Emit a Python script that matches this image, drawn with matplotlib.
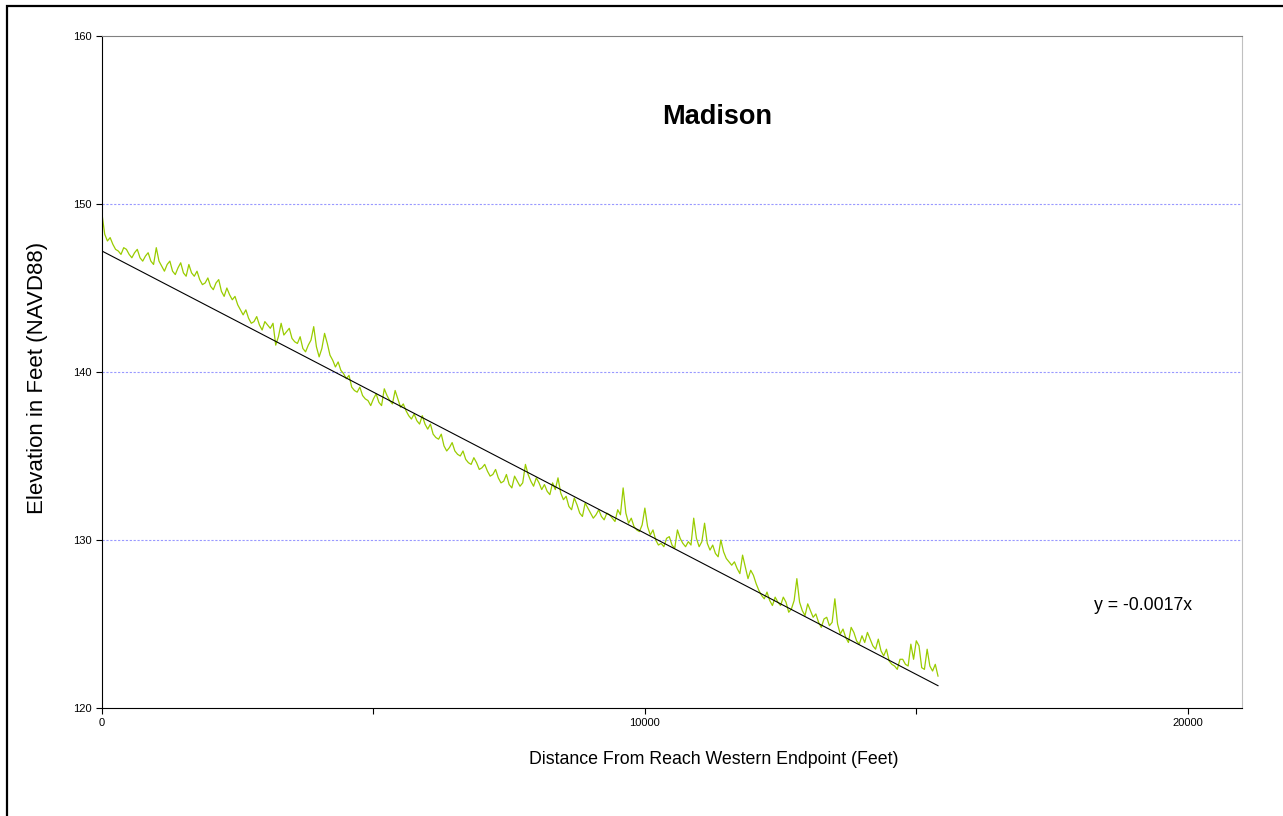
import numpy as np
import matplotlib.pyplot as plt
from matplotlib.patches import Rectangle

plt.rcParams['font.family'] = ['Liberation Sans', 'DejaVu Sans']

# survey elevations read at every 100 ft (0 .. 15400)
elevation_100ft = [
    149.4, 147.8, 147.6, 147.2, 147.4, 147.0, 147.1, 146.8, 146.9, 146.6,
    147.4, 146.3, 146.4, 146.0, 146.2, 145.9, 146.4, 145.7, 145.5, 145.3,
    145.1, 145.3, 144.8, 145.0, 144.3, 144.0, 143.4, 143.2, 143.0, 142.8,
    143.0, 142.6, 141.6, 142.9, 142.4, 142.0, 141.7, 141.4, 141.6, 142.7,
    140.9, 142.3, 141.0, 140.3, 140.1, 139.6, 139.1, 138.8, 138.6, 138.3,
    138.4, 138.2, 139.0, 138.3, 138.9, 137.9, 137.7, 137.2, 137.1, 137.4,
    136.6, 136.3, 136.0, 135.6, 135.5, 135.3, 135.0, 134.8, 134.5, 134.6,
    134.3, 134.1, 133.9, 133.7, 133.5, 133.3, 133.8, 133.2, 134.5, 133.5,
    133.7, 133.0, 132.9, 133.4, 133.7, 132.4, 132.0, 132.5, 131.6, 132.2,
    131.6, 131.5, 131.4, 131.6, 131.3, 131.8, 133.1, 131.0, 130.8, 130.5,
    131.9, 130.3, 130.0, 129.8, 130.1, 129.7, 130.6, 129.8, 129.9, 131.3,
    129.6, 131.0, 129.4, 129.2, 130.0, 128.9, 128.5, 128.3, 129.1, 127.7,
    127.9, 127.0, 126.5, 126.4, 126.6, 126.1, 126.3, 125.9, 127.7, 125.8,
    126.2, 125.4, 125.1, 125.3, 124.9, 126.5, 124.4, 124.2, 124.8, 124.0,
    124.3, 124.5, 123.7, 124.1, 123.1, 122.8, 122.5, 122.9, 122.6, 123.8,
    124.0, 122.4, 123.5, 122.2, 121.9,
]

# readings halfway between (50, 150, ... 15350 ft)
elevation_mid = [
    148.2, 148.0, 147.3, 147.0, 147.3, 146.8, 147.3, 146.6, 147.1, 146.4,
    146.6, 146.0, 146.6, 145.8, 146.5, 145.7, 145.9, 146.0, 145.2, 145.6,
    144.9, 145.5, 144.5, 144.6, 144.5, 143.7, 143.7, 142.9, 143.3, 142.5,
    142.8, 142.9, 142.1, 142.2, 142.6, 141.8, 142.1, 141.2, 141.9, 141.5,
    141.4, 141.7, 140.7, 140.6, 139.9, 139.8, 138.9, 139.1, 138.4, 138.0,
    138.7, 138.0, 138.6, 138.1, 138.4, 138.1, 137.4, 137.5, 136.9, 136.9,
    136.9, 136.1, 136.3, 135.3, 135.8, 135.1, 135.3, 134.6, 134.9, 134.2,
    134.5, 133.8, 134.2, 133.4, 133.9, 133.1, 133.5, 133.4, 133.9, 133.2,
    133.4, 133.3, 132.7, 133.0, 132.8, 132.6, 131.8, 132.1, 131.4, 131.9,
    131.3, 131.8, 131.2, 131.5, 131.1, 131.5, 131.6, 131.3, 130.6, 130.9,
    130.8, 130.6, 129.7, 129.6, 130.2, 129.5, 130.1, 129.6, 129.7, 130.1,
    129.9, 129.8, 129.7, 129.0, 129.3, 128.7, 128.7, 128.0, 128.4, 128.2,
    127.4, 126.7, 126.9, 126.1, 126.3, 126.6, 125.7, 126.4, 126.3, 125.5,
    125.8, 125.6, 124.8, 125.4, 125.1, 125.0, 124.7, 123.9, 124.5, 123.8,
    123.9, 124.1, 123.5, 123.4, 123.5, 122.6, 122.3, 122.9, 122.5, 122.9,
    123.7, 122.3, 122.5, 122.6,
]

# linear trendline as shown on the chart
trend_slope = -0.00168
trend_intercept = 147.2
trend_x = [0, 15400]

# merge the two readings into one profile at 50 ft spacing
elev = np.empty(len(elevation_100ft) + len(elevation_mid))
elev[0::2] = elevation_100ft
elev[1::2] = elevation_mid
distance_ft = np.arange(len(elev)) * 50

fig = plt.figure(figsize=(12.83, 8.16), dpi=100)
ax = fig.add_axes([102 / 1283, 1 - 708 / 816, 1140 / 1283, 672 / 816])

ax.plot(distance_ft, elev, color='#99cc00', lw=0.9)
tx = np.array(trend_x)
ax.plot(tx, trend_slope * tx + trend_intercept, color='black', lw=0.8)

ax.set_xlim(0, 21000)
ax.set_ylim(120, 160)
ax.set_xticks([0, 5000, 10000, 15000, 20000])
ax.set_xticklabels(['0', '', '10000', '', '20000'])
ax.set_yticks([120, 130, 140, 150, 160])
ax.tick_params(direction='out', length=4, width=0.8, labelsize=8)

for y in [130, 140, 150]:
    ax.axhline(y, color='#9999ff', lw=0.8, ls=(0, (2, 1.5)), zorder=0)

ax.spines['top'].set_color('#808080')
ax.spines['right'].set_color('#c0c0c0')
ax.spines['left'].set_color('black')
ax.spines['bottom'].set_color('black')

ax.set_xlabel('Distance From Reach Western Endpoint (Feet)', fontsize=12.8)
ax.set_ylabel('Elevation in Feet (NAVD88)', fontsize=16)
ax.xaxis.set_label_coords(0.537, -0.064)
ax.yaxis.set_label_coords(-0.047, 0.491)

ax.text(0.540, 0.879, 'Madison', transform=ax.transAxes, ha='center', va='center',
        fontsize=19.5, fontweight='bold')
ax.text(0.913, 0.153, 'y = -0.0017x', transform=ax.transAxes, ha='center', va='center',
        fontsize=12.7)

# outer chart frame
fig.patches.append(Rectangle((7 / 1283, -0.05), 1.1, 1 - 6 / 816 + 0.05,
                             transform=fig.transFigure, fill=False,
                             edgecolor='black', lw=1.6))

fig.savefig('out.png', dpi=100)
